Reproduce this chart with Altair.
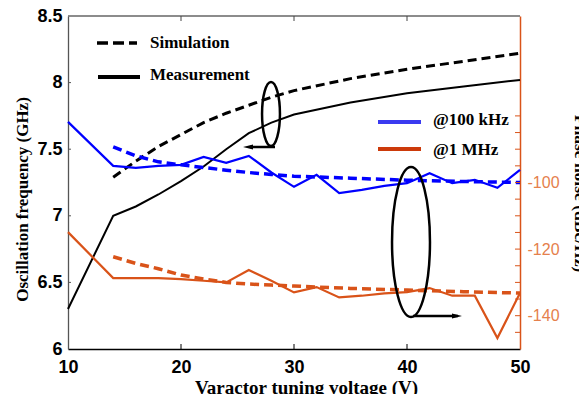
import altair as alt
import pandas as pd

# ---------------- data ----------------
V_SIM = [14, 16, 18, 20, 22, 24, 26, 28, 30, 35, 40, 45, 50]
F_SIM = [7.29, 7.41, 7.52, 7.61, 7.70, 7.77, 7.83, 7.89, 7.94, 8.03, 8.10, 8.16, 8.22]

V_MEAS = [10, 14, 16, 18, 20, 22, 24, 26, 28, 30, 35, 40, 45, 50]
F_MEAS = [6.30, 7.00, 7.07, 7.16, 7.26, 7.37, 7.50, 7.62, 7.70, 7.76, 7.85, 7.92, 7.97, 8.02]

V_PN = [10, 14, 16, 18, 20, 22, 24, 26, 28, 30, 32, 34, 36, 38, 40, 42, 44, 46, 48, 50]
PN_100K_MEAS = [-81.8, -95.0, -95.6, -95.0, -94.7, -92.3, -94.1, -92.0, -97.0, -101.3,
                -97.7, -103.2, -102.2, -101.0, -100.2, -97.2, -100.2, -99.2, -101.6, -96.2]
PN_1M_MEAS = [-114.9, -128.7, -128.7, -128.7, -129.0, -129.5, -130.0, -126.3, -129.5, -133.0,
              -131.4, -134.5, -134.0, -133.3, -132.9, -131.7, -134.0, -134.0, -146.7, -133.2]

V_PN_SIM = [14, 16, 18, 20, 22, 24, 26, 28, 30, 35, 40, 45, 50]
PN_100K_SIM = [-89.3, -92.0, -93.8, -94.7, -95.5, -96.3, -97.0, -97.6, -98.1, -98.7, -99.3, -99.7, -100.0]
PN_1M_SIM = [-122.3, -124.3, -125.9, -127.8, -129.0, -130.0, -130.5, -130.8, -131.1, -131.8, -132.3, -132.8, -133.2]

X_TICKS = [10, 20, 30, 40, 50]
X_INNER_TICKS = [20, 30, 40]
YL_TICKS = [6, 6.5, 7, 7.5, 8, 8.5]
YL_INNER_TICKS = [6.5, 7, 7.5, 8]
YR_LABELS = [-140, -120, -100]
YR_TICKS = [-80, -85, -90, -95, -100, -105, -110, -115, -120, -125, -130, -135, -140, -145]

# ---------------- layout / style ----------------
W, H = 452, 333
BLACK = "#000000"
BLUE = "#0000ff"
ORANGE = "#D95319"
SERIF = "Liberation Serif"
SANS = "Liberation Sans"

xs = alt.Scale(domain=[10, 50], nice=False, zero=False)
yls = alt.Scale(domain=[6, 8.5], nice=False, zero=False)
yrs = alt.Scale(domain=[-150, -50], nice=False, zero=False)

one = pd.DataFrame({"a": [0]})

x_axis = alt.Axis(values=X_TICKS, labelExpr="toString(datum.value)", labelFont=SANS,
                  labelFontWeight="bold", labelFontSize=18, labelColor=BLACK, ticks=False,
                  domainColor=BLACK, domainWidth=1.5, labelPadding=9, grid=False,
                  title="Varactor tuning voltage (V)", titleFont=SERIF, titleFontSize=19,
                  titleFontWeight="bold", titleColor=BLACK, titleX=238, titleY=44,
                  titleAlign="center", titleBaseline="alphabetic", labelFlush=False)
yl_axis = alt.Axis(values=YL_TICKS, labelExpr="toString(datum.value)", labelFont=SANS,
                   labelFontWeight="bold", labelFontSize=18, labelColor=BLACK, ticks=False,
                   domainColor="#555555", domainWidth=1.3, labelPadding=6, grid=False,
                   title="Oscillation frequency (GHz)", titleFont=SERIF, titleFontSize=17,
                   titleFontWeight="bold", titleColor=BLACK, titleAngle=270, titleX=-46,
                   titleY=183, titleAlign="center", titleBaseline="middle", labelFlush=False)
yr_axis = alt.Axis(orient="right", values=YR_LABELS, labelExpr="toString(datum.value)",
                   labelFont=SANS, labelFontSize=16, labelColor="#E5804C", ticks=False,
                   domainColor=ORANGE, domainWidth=1.5, labelPadding=7, grid=False,
                   title="Phase noise (dBc/Hz)", titleFont=SERIF, titleFontSize=17.5,
                   titleFontWeight="bold", titleColor=BLACK, titleAngle=90, titleX=59,
                   titleY=177, titleAlign="center", titleBaseline="middle", labelFlush=False)

def X(field):
    return alt.X(field, scale=xs, axis=x_axis)

def YL(field):
    return alt.Y(field, scale=yls, axis=yl_axis)

def YR(field):
    return alt.Y(field, scale=yrs, axis=yr_axis)

def line(vs, ys, color, width, dash=None, right=False):
    df = pd.DataFrame({"v": vs, "y": ys})
    kw = dict(color=color, strokeWidth=width)
    if dash:
        kw["strokeDash"] = dash
    return alt.Chart(df).mark_line(**kw).encode(
        x=X("v:Q"), y=YR("y:Q") if right else YL("y:Q"))

def hrule(x1, x2, y, color, width, dash=None):
    kw = dict(color=color, strokeWidth=width)
    if dash:
        kw["strokeDash"] = dash
    return alt.Chart(one).mark_rule(**kw).encode(
        x=alt.value(x1), x2=alt.value(x2), y=alt.value(y))

def label(x, y, txt):
    return alt.Chart(one).mark_text(align="left", baseline="middle", font=SERIF,
                                    fontWeight="bold", fontSize=17, color=BLACK).encode(
        x=alt.value(x), y=alt.value(y), text=alt.value(txt))

def ellipse(cx, cy, h, ratio):
    path = f"M 0 -1 A {ratio} 1 0 1 1 0 1 A {ratio} 1 0 1 1 0 -1 Z"
    return alt.Chart(one).mark_point(shape=path, size=h * h, filled=False, stroke=BLACK,
                                     strokeWidth=2.5, opacity=1).encode(
        x=alt.value(cx), y=alt.value(cy))

def head(x, y, direction):
    path = "M -1 -0.5 L 1 0 L -1 0.5 Z" if direction == "right" else "M 1 -0.5 L -1 0 L 1 0.5 Z"
    return alt.Chart(one).mark_point(shape=path, size=100, filled=True, color=BLACK,
                                     opacity=1).encode(x=alt.value(x), y=alt.value(y))

# ---------------- left (frequency) group ----------------
sim = line(V_SIM, F_SIM, BLACK, 3, [9, 5])
meas = line(V_MEAS, F_MEAS, BLACK, 2)

top_border = hrule(0, W, 0, "#666666", 1.3)
bottom_ticks = alt.Chart(pd.DataFrame({"v": X_INNER_TICKS})).mark_rule(color=BLACK, strokeWidth=1).encode(
    x=X("v:Q"), y=alt.value(H), y2=alt.value(H - 5))
top_ticks = alt.Chart(pd.DataFrame({"v": X_INNER_TICKS})).mark_rule(color="#444444", strokeWidth=1).encode(
    x=X("v:Q"), y=alt.value(0), y2=alt.value(5))
left_ticks = alt.Chart(pd.DataFrame({"y": YL_INNER_TICKS})).mark_rule(color="#555555", strokeWidth=1).encode(
    y=YL("y:Q"), x=alt.value(0), x2=alt.value(3))

leg1 = [
    hrule(29, 69, 27, BLACK, 3.5, [11, 5]),
    label(82, 27, "Simulation"),
    hrule(30, 72, 61, BLACK, 4),
    label(82, 59, "Measurement"),
]
ann1 = [
    ellipse(203, 98, 64, 0.28),
    hrule(207, 182, 131, BLACK, 2.5),
    head(180, 131, "left"),
]

left = alt.layer(sim, meas, top_border, bottom_ticks, top_ticks, left_ticks, *leg1, *ann1)

# ---------------- right (phase noise) group ----------------
b_meas = line(V_PN, PN_100K_MEAS, BLUE, 2.2, right=True)
b_sim = line(V_PN_SIM, PN_100K_SIM, BLUE, 3.5, [9, 5], right=True)
o_meas = line(V_PN, PN_1M_MEAS, ORANGE, 2.2, right=True)
o_sim = line(V_PN_SIM, PN_1M_SIM, ORANGE, 3.5, [9, 5], right=True)

right_ticks = alt.Chart(pd.DataFrame({"y": YR_TICKS})).mark_rule(color=ORANGE, strokeWidth=1).encode(
    y=YR("y:Q"), x=alt.value(W), x2=alt.value(W - 5))

leg2 = [
    hrule(310, 353, 106, "#3a3af0", 4),
    label(365, 104, "@100 kHz"),
    hrule(310, 353, 133, "#CC3A0A", 4),
    label(365, 134, "@1 MHz"),
]
ann2 = [
    ellipse(343, 226, 150, 0.253),
    hrule(345, 390, 300, BLACK, 2.5),
    head(389, 300, "right"),
]

right = alt.layer(b_meas, b_sim, o_meas, o_sim, right_ticks, *leg2, *ann2)

chart = alt.layer(left, right).resolve_scale(y="independent").properties(
    width=W, height=H,
    padding={"left": 60, "top": 8, "right": 59, "bottom": 45},
    autosize=alt.AutoSizeParams(type="none"),
).configure_view(stroke=None).configure_axis(grid=False)

chart.save("out.html", embed_options={"renderer": "svg", "actions": False})
